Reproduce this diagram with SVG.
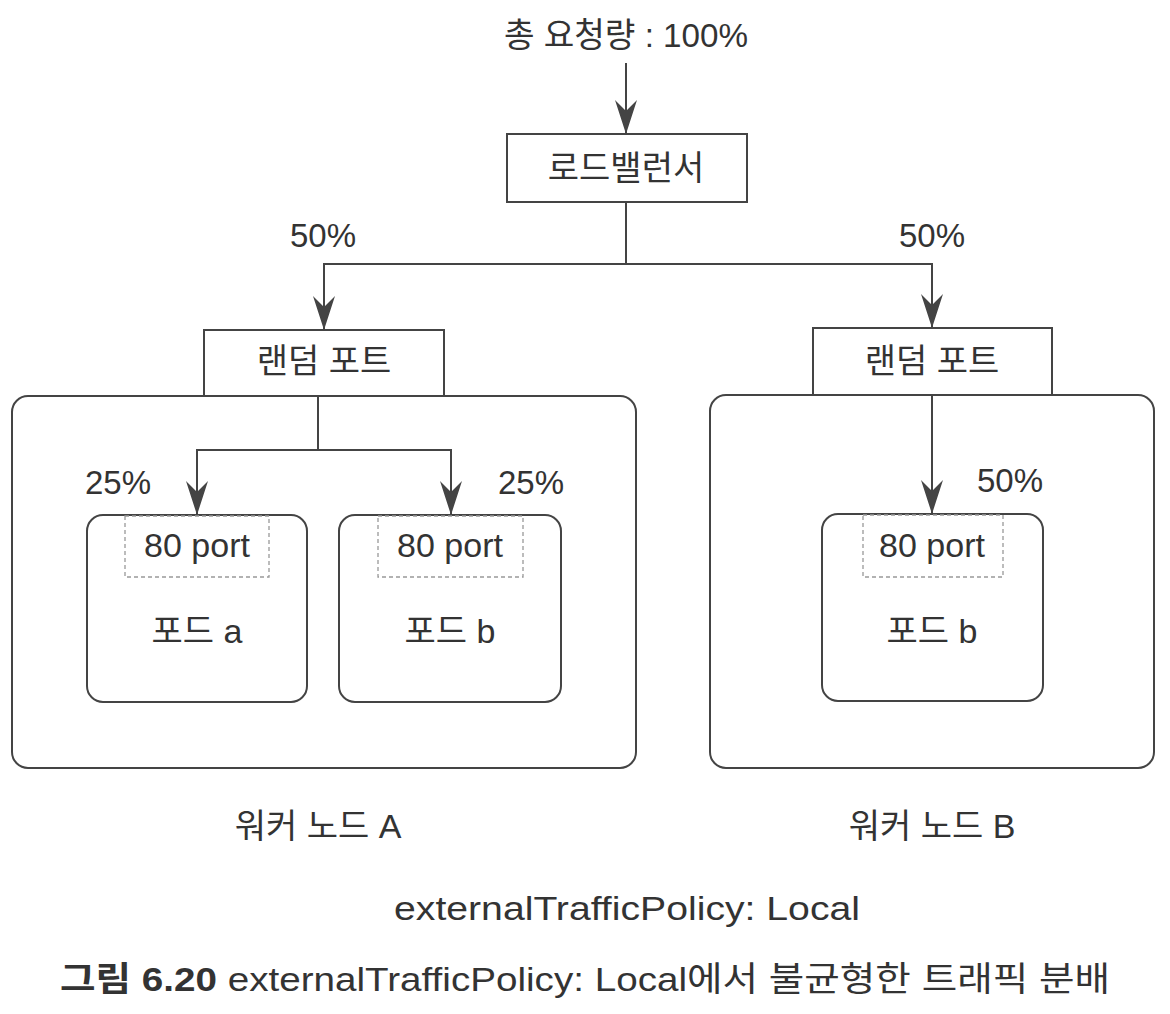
<svg xmlns="http://www.w3.org/2000/svg" width="1170" height="1014" viewBox="0 0 1170 1014">
<style>
text{font-family:"Liberation Sans","Noto Sans CJK KR",sans-serif;fill:#333;font-size:34px;text-anchor:middle}
.box{fill:#fff;stroke:#444;stroke-width:2}
.dash{fill:none;stroke:#999;stroke-width:1.3;stroke-dasharray:4 3}
.con{fill:none;stroke:#444;stroke-width:2}
.pct{font-size:33px}
</style>
<defs>
<marker id="ah" markerUnits="userSpaceOnUse" markerWidth="36" markerHeight="26" viewBox="-35 -13 36 26" refX="0" refY="0" orient="auto">
<path d="M0,0 L-34,-11 L-23,0 L-34,11 Z" fill="#444"/>
</marker>
</defs>
<rect width="1170" height="1014" fill="#fff"/>
<g id="title"><text x="626" y="47" textLength="244" lengthAdjust="spacingAndGlyphs">총 요청량 : 100%</text></g>
<g id="worker-a"><rect class="box" x="12" y="396" width="624" height="372" rx="16"/><text x="318" y="838" font-size="36">워커 노드 A</text></g>
<g id="worker-b"><rect class="box" x="710" y="395" width="444" height="373" rx="16"/><text x="932" y="838" font-size="36">워커 노드 B</text></g>
<g id="lb"><rect class="box" x="507" y="134" width="240" height="68"/><text x="626" y="180" font-size="35">로드밸런서</text></g>
<g id="rp-a"><rect class="box" x="204" y="330" width="240" height="66"/><text x="324" y="373" font-size="35">랜덤 포트</text></g>
<g id="rp-b"><rect class="box" x="813" y="328" width="239" height="67"/><text x="932" y="373" font-size="35">랜덤 포트</text></g>
<g id="pod-a"><rect class="box" x="87" y="515" width="220" height="187" rx="16"/><rect class="dash" x="125" y="516" width="144" height="61"/><text x="197" y="557" font-size="36">80 port</text><text x="197" y="643" font-size="35">포드 a</text></g>
<g id="pod-b1"><rect class="box" x="339" y="515" width="222" height="187" rx="16"/><rect class="dash" x="378" y="516" width="145" height="61"/><text x="450" y="557" font-size="36">80 port</text><text x="450" y="643" font-size="35">포드 b</text></g>
<g id="pod-b2"><rect class="box" x="822" y="514" width="221" height="187" rx="16"/><rect class="dash" x="863" y="515" width="140" height="62"/><text x="932" y="557" font-size="36">80 port</text><text x="932" y="643" font-size="35">포드 b</text></g>
<g id="connectors">
<line class="con" x1="626" y1="63" x2="626" y2="134" marker-end="url(#ah)"/>
<polyline class="con" points="626,202 626,264 324,264 324,330" marker-end="url(#ah)"/>
<polyline class="con" points="626,264 932,264 932,328" marker-end="url(#ah)"/>
<polyline class="con" points="318,396 318,450 197,450 197,515" marker-end="url(#ah)"/>
<polyline class="con" points="318,450 451,450 451,515" marker-end="url(#ah)"/>
<line class="con" x1="932" y1="395" x2="932" y2="514" marker-end="url(#ah)"/>
</g>
<g id="labels">
<text class="pct" x="323" y="247">50%</text>
<text class="pct" x="932" y="247">50%</text>
<text class="pct" x="118" y="494">25%</text>
<text class="pct" x="531" y="494">25%</text>
<text class="pct" x="1010" y="492">50%</text>
</g>
<g id="footer">
<text x="627" y="920" font-size="36" textLength="466" lengthAdjust="spacingAndGlyphs">externalTrafficPolicy: Local</text>
<text x="585" y="991" font-size="34" textLength="1050" lengthAdjust="spacingAndGlyphs"><tspan font-weight="bold">그림 6.20</tspan> externalTrafficPolicy: Local에서 불균형한 트래픽 분배</text>
</g>
</svg>
